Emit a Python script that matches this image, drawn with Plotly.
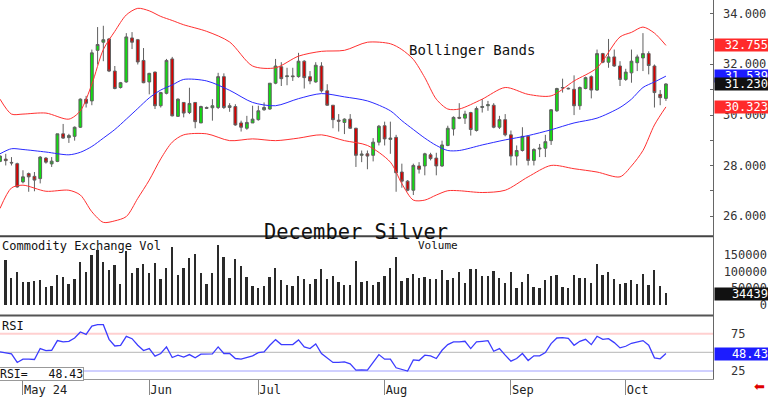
import pandas as pd
import plotly.graph_objects as go

# ---------------- data ----------------
holidays = ["2024-05-27", "2024-06-19", "2024-07-04", "2024-09-02"]
dates = [d.strftime("%Y-%m-%d") for d in pd.bdate_range("2024-04-25", "2024-10-10")
         if d.strftime("%Y-%m-%d") not in holidays]

opens = [28.17, 28.26, 28.13, 28.08, 27.36, 27.69, 27.58, 27.49, 28.30, 28.07,
         28.17, 29.26, 29.11, 29.16, 29.52, 30.63, 30.56, 32.56, 32.88, 33.01,
         31.74, 31.09, 31.31, 33.05, 32.98, 32.16, 31.31, 31.70, 30.37, 30.86,
         32.22, 29.95, 30.50, 30.10, 30.50, 29.69, 30.30, 30.29, 30.30, 31.52,
         30.30, 30.34, 29.69, 29.48, 29.69, 29.82, 30.21, 30.24, 31.26, 31.91,
         31.52, 31.55, 31.52, 32.13, 31.52, 31.31, 31.94, 30.96, 30.39, 29.80,
         29.71, 29.84, 29.48, 28.41, 28.47, 28.41, 28.93, 29.58, 29.04, 29.12,
         27.75, 27.39, 27.03, 27.99, 27.99, 28.43, 28.30, 27.99, 28.80, 29.45,
         29.91, 29.88, 30.10, 29.39, 30.30, 30.37, 30.39, 29.52, 29.82, 29.22,
         28.38, 28.60, 29.16, 28.21, 28.66, 28.69, 28.99, 30.17, 31.07, 31.06,
         31.02, 30.37, 31.05, 31.52, 30.99, 32.43, 32.09, 32.30, 31.94, 31.41,
         31.67, 32.07, 32.26, 32.43, 31.94, 30.82, 30.66]
highs = [28.41, 28.47, 28.34, 28.12, 27.82, 27.73, 27.75, 28.38, 28.34, 28.34,
         29.26, 29.65, 29.26, 29.55, 30.66, 30.76, 32.59, 33.48, 33.53, 33.05,
         31.94, 31.31, 33.24, 33.28, 33.01, 32.65, 31.67, 31.72, 30.92, 32.22,
         32.30, 30.66, 30.50, 31.08, 30.50, 30.37, 30.34, 30.63, 31.67, 31.65,
         30.47, 30.43, 29.78, 29.97, 30.37, 30.37, 30.50, 31.26, 32.22, 32.09,
         31.87, 31.87, 32.46, 32.17, 31.74, 32.09, 32.09, 31.22, 30.39, 30.04,
         29.87, 30.04, 29.50, 28.60, 28.60, 29.09, 29.61, 29.74, 29.74, 29.22,
         28.08, 27.43, 28.08, 28.14, 28.51, 28.51, 28.51, 28.99, 29.58, 29.95,
         30.47, 30.17, 30.13, 30.34, 30.63, 30.56, 30.47, 29.97, 30.04, 29.39,
         28.80, 29.52, 29.19, 28.69, 28.86, 29.22, 30.24, 31.08, 31.44, 31.09,
         31.57, 31.13, 31.52, 31.57, 32.59, 32.46, 33.01, 32.59, 32.13, 31.83,
         32.59, 32.39, 33.24, 32.52, 32.00, 30.99, 31.26]
lows = [28.14, 28.01, 28.01, 27.13, 27.30, 26.97, 26.99, 27.30, 28.08, 27.95,
        28.14, 29.06, 28.90, 28.99, 29.49, 30.30, 30.39, 32.00, 32.13, 31.70,
        31.02, 31.05, 31.28, 32.61, 32.00, 31.26, 30.82, 30.24, 30.30, 30.82,
        29.95, 29.93, 29.91, 30.04, 29.48, 29.69, 30.24, 29.78, 30.24, 30.24,
        30.13, 29.58, 29.35, 29.42, 29.69, 29.78, 30.17, 30.21, 31.22, 31.15,
        31.18, 31.35, 31.48, 31.05, 31.22, 31.28, 30.89, 30.37, 29.48, 29.35,
        29.25, 29.46, 27.95, 28.14, 27.86, 28.17, 28.80, 28.80, 28.47, 26.97,
        27.13, 26.99, 26.84, 27.69, 27.62, 28.21, 27.62, 27.95, 28.77, 29.19,
        29.84, 29.65, 29.19, 29.35, 30.10, 30.17, 29.48, 29.45, 29.16, 28.01,
        28.01, 28.56, 28.01, 28.01, 28.34, 28.34, 28.82, 30.13, 30.89, 31.02,
        30.00, 30.21, 31.02, 30.66, 30.96, 32.05, 31.87, 31.91, 31.15, 31.35,
        31.28, 31.74, 31.74, 31.61, 30.30, 30.39, 30.56]
closes = [28.38, 28.20, 28.11, 27.16, 27.56, 27.56, 27.43, 28.34, 28.14, 28.18,
          29.26, 29.09, 29.19, 29.52, 30.63, 30.47, 32.46, 32.79, 32.98, 31.74,
          31.05, 31.28, 33.09, 32.88, 32.10, 31.28, 31.65, 30.37, 30.89, 32.16,
          29.97, 30.63, 30.08, 30.46, 29.74, 30.34, 30.27, 30.37, 31.52, 30.30,
          30.37, 29.61, 29.52, 29.71, 29.84, 30.17, 30.30, 31.26, 31.94, 31.44,
          31.55, 31.52, 32.13, 31.48, 31.35, 31.97, 30.96, 30.39, 29.82, 29.76,
          29.84, 29.48, 28.41, 28.46, 28.38, 28.93, 29.56, 29.06, 29.09, 27.72,
          27.39, 27.03, 28.01, 27.86, 28.47, 28.28, 27.99, 28.82, 29.48, 29.91,
          29.88, 30.04, 29.43, 30.26, 30.34, 30.41, 29.52, 29.82, 29.22, 28.38,
          28.60, 29.16, 28.21, 28.64, 28.69, 28.95, 30.21, 31.05, 31.09, 31.04,
          30.37, 31.09, 31.48, 30.99, 32.43, 32.09, 32.30, 31.94, 31.41, 31.70,
          32.13, 32.30, 32.43, 31.96, 30.89, 30.69, 31.23]

band_idx = [0, 2, 4, 8, 12, 14, 16, 18, 20, 22, 24, 26, 28, 30, 32, 36, 40, 44, 48, 52,
            56, 60, 64, 68, 70, 72, 74, 76, 78, 80, 84, 88, 92, 96, 100, 104, 108, 110,
            112, 114, 116]
band_upper = [30.63, 30.04, 30.04, 30.08, 29.84, 30.17, 31.22, 32.59, 33.31, 33.96,
              34.22, 34.12, 33.90, 33.74, 33.57, 33.31, 32.89, 31.94, 31.87, 32.33,
              32.52, 32.56, 32.88, 32.82, 32.59, 32.20, 31.48, 30.63, 30.24, 30.24,
              30.63, 31.09, 30.82, 30.76, 31.35, 31.87, 33.09, 33.27, 33.48, 33.24,
              32.755]
band_mid = [28.47, 28.67, 28.64, 28.54, 28.43, 28.53, 28.76, 29.09, 29.43, 29.84,
            30.26, 30.68, 30.99, 31.19, 31.41, 31.35, 30.98, 30.50, 30.37, 30.65,
            30.85, 30.72, 30.56, 30.17, 29.78, 29.43, 29.09, 28.80, 28.60, 28.60,
            28.82, 29.02, 29.19, 29.42, 29.69, 29.88, 30.30, 30.63, 31.09, 31.31,
            31.539]
band_lower = [26.31, 27.12, 27.23, 26.99, 27.03, 26.84, 26.18, 25.76, 25.82, 25.99,
              26.71, 27.43, 28.27, 28.93, 29.22, 29.26, 28.99, 29.06, 28.99, 29.09,
              29.22, 28.99, 28.80, 28.14, 27.29, 26.64, 26.64, 26.84, 27.01, 27.01,
              26.94, 27.03, 27.56, 28.01, 27.88, 27.75, 27.56, 27.99, 28.60, 29.61,
              30.323]

volume = [None, 135400, 79900, 97700, 69900, 69900, 72900, 74900, 53100, 58000,
          90800, 84800, 62000, 78900, 129500, 99700, 149300, 165200, 127500, 105600,
          119500, 62000, 162200, 95700, 110600, 123500, 95700, 125500, 78900, 109600,
          174100, 90800, 110600, 140400, 153300, 96700, 63000, 96700, 179100, 143300,
          81800, 137400, 115600, 83800, 58000, 50100, 56000, 83800, 111600, 75900,
          60000, 56000, 86800, 77900, 64000, 77900, 107600, 77900, 86800, 68000,
          60000, 60000, 131400, 68000, 71900, 60000, 69900, 86800, 111600, 144300,
          71900, 81800, 91800, 81800, 84800, 78900, 77900, 105600, 74900, 81800,
          97700, 66000, 108600, 107600, 87800, 87800, 101700, 81800, 65000, 97700,
          50100, 68000, 92800, 53100, 51100, 74900, 87800, 89800, 55100, 51100,
          90800, 80800, 80800, 65000, 122500, 89800, 99700, 78900, 62000, 66000,
          74900, 62000, 92800, 61000, 105600, 57000, 34439]

rsi = [50.7, 49.8, 48.0, 36.5, 40.9, 40.9, 40.5, 55.2, 52.5, 52.9,
       65.9, 64.1, 65.0, 69.4, 77.5, 74.3, 85.5, 87.3, 87.3, 67.6,
       58.7, 59.6, 71.7, 68.5, 59.6, 52.5, 55.2, 44.9, 48.5, 57.4,
       43.1, 46.3, 43.6, 47.1, 42.7, 47.6, 47.6, 48.0, 57.4, 48.5,
       48.5, 41.8, 40.9, 42.7, 45.4, 49.8, 50.7, 59.6, 67.2, 60.5,
       60.5, 60.5, 66.8, 57.4, 55.2, 61.4, 48.5, 42.7, 36.5, 36.5,
       37.3, 34.7, 26.2, 26.6, 26.2, 36.5, 47.1, 40.9, 40.9, 29.3,
       27.5, 24.9, 40.0, 39.1, 46.3, 45.4, 41.8, 52.9, 60.5, 64.1,
       64.1, 65.0, 55.2, 64.1, 65.0, 65.9, 51.6, 55.2, 46.3, 38.2,
       41.8, 48.5, 39.1, 45.4, 45.4, 49.8, 61.9, 69.4, 69.9, 69.0,
       59.6, 65.0, 67.6, 60.5, 71.7, 67.6, 68.5, 63.2, 56.1, 58.3,
       62.3, 64.1, 65.9, 59.6, 42.7, 41.4, 48.43]

price_ticks = [26, 28, 30, 32, 34]
vol_ticks = [150000, 100000, 50000, 0]
rsi_ticks = [75, 25]
month_starts = ["2024-05-01", "2024-06-03", "2024-07-01", "2024-08-01", "2024-09-03", "2024-10-01"]
month_labels = ["May 24", "Jun", "Jul", "Aug", "Sep", "Oct"]

last_upper, last_mid, last_lower = band_upper[-1], band_mid[-1], band_lower[-1]
last_close, last_vol, last_rsi = closes[-1], volume[-1], rsi[-1]

# ---------------- figure ----------------
MONO = "DejaVu Sans Mono"
W, H = 768, 397
ML, MR, MT, MB = 0, 55, 0, 15
PH = H - MT - MB  # 382
PW = W - ML - MR  # 713


def py(pix):
    """pixel row (from top) -> paper y"""
    return (PH - (pix - MT)) / PH


def px(pix):
    return (pix - ML) / PW


fig = go.Figure()
fig.add_trace(go.Candlestick(
    x=dates, open=opens, high=highs, low=lows, close=closes,
    xaxis="x", yaxis="y",
    increasing=dict(line=dict(color="#606060", width=1), fillcolor="#10dd10"),
    decreasing=dict(line=dict(color="#606060", width=1), fillcolor="#d80000"),
    whiskerwidth=0, hoverinfo="skip"))

bx = [dates[i] for i in band_idx]
for vals, col in ((band_upper, "#ff3030"), (band_lower, "#ff3030"), (band_mid, "#2a2aff")):
    fig.add_trace(go.Scatter(x=bx, y=vals, mode="lines", xaxis="x", yaxis="y",
                             line=dict(color=col, width=1, shape="spline", smoothing=0.8),
                             hoverinfo="skip"))

fig.add_trace(go.Bar(x=dates, y=volume, xaxis="x", yaxis="y2", width=0.32,
                     marker=dict(color="#2a2a2a", line=dict(width=0)), hoverinfo="skip"))

fig.add_trace(go.Scatter(x=dates, y=rsi, mode="lines", xaxis="x", yaxis="y3",
                         line=dict(color="#3c3cff", width=1.3), hoverinfo="skip"))

main_dom = [py(238), 1]
vol_dom = [py(318), py(238)]
rsi_dom = [0, py(318)]

yax_common = dict(side="right", showgrid=False, zeroline=False, showticklabels=False,
                  showline=True, linecolor="#666", linewidth=1, anchor="x", fixedrange=True)

fig.update_layout(
    width=W, height=H,
    margin=dict(l=ML, r=MR, t=MT, b=MB, pad=0),
    paper_bgcolor="white", plot_bgcolor="white",
    showlegend=False, bargap=0,
    xaxis=dict(type="category", categoryorder="array", categoryarray=dates,
               range=[0, 124.2], domain=[0, 1], anchor="y3",
               rangeslider=dict(visible=False), showgrid=False, zeroline=False,
               tickmode="array", tickvals=month_starts, ticktext=month_labels,
               ticks="outside", ticklen=15, tickwidth=1, tickcolor="#888",
               ticklabelposition="outside right",
               tickfont=dict(family=MONO, size=12, color="#222"),
               showline=True, linecolor="#999", linewidth=1),
    yaxis=dict(domain=main_dom, range=[25.216, 34.549], ticks="inside", ticklen=3,
               tickcolor="#666", dtick=1, tick0=26, **yax_common),
    yaxis2=dict(domain=vol_dom, range=[-31250, 206845], ticks="", **yax_common),
    yaxis3=dict(domain=rsi_dom, range=[14.2, 99.7], ticks="", **yax_common),
)

shapes = [
    dict(type="line", xref="paper", yref="paper", x0=0, x1=1, y0=py(238), y1=py(238),
         line=dict(color="#444", width=2)),
    dict(type="line", xref="paper", yref="paper", x0=0, x1=1, y0=py(318), y1=py(318),
         line=dict(color="#555", width=2)),
]
for lvl, col, w in ((75, "#ffd0d0", 2), (50, "#c4c4c4", 1.2), (25, "#d0d0ff", 2)):
    shapes.append(dict(type="line", xref="paper", yref="y3", x0=0, x1=1, y0=lvl, y1=lvl,
                       line=dict(color=col, width=w), layer="below"))
fig.update_layout(shapes=shapes)

ann = []
# price axis labels
for v in price_ticks:
    ann.append(dict(x=1, xref="paper", xshift=8, xanchor="left", y=v, yref="y",
                    yanchor="middle", text=f"{v:.3f}", showarrow=False,
                    font=dict(family=MONO, size=12, color="#333")))
# volume axis labels (right aligned)
for v in vol_ticks:
    ann.append(dict(x=1, xref="paper", xshift=1, xanchor="left", y=v, yref="y2",
                    yanchor="middle", text=str(v), showarrow=False, width=52, align="right",
                    borderpad=0, font=dict(family=MONO, size=12, color="#333")))
# rsi axis labels
for v in rsi_ticks:
    ann.append(dict(x=1, xref="paper", xshift=16, xanchor="left", y=v, yref="y3",
                    yanchor="middle", text=str(v), showarrow=False,
                    font=dict(family=MONO, size=12, color="#333")))


def value_box(val, yref, bg, text):
    return dict(x=1, xref="paper", xshift=1, xanchor="left", y=val, yref=yref,
                yanchor="middle", text=text, showarrow=False, width=53, height=12,
                align="right", valign="middle", bgcolor=bg, borderpad=0,
                font=dict(family=MONO, size=12, color="white"))


ann.append(value_box(last_upper, "y", "#ff2a2a", f"{last_upper:.3f}"))
ann.append(value_box(last_lower, "y", "#ff2a2a", f"{last_lower:.3f}"))
ann.append(value_box(last_mid, "y", "#1c1cff", f"{last_mid:.3f}"))
ann.append(value_box(last_close, "y", "#111111", f"{last_close:.3f}"))
ann.append(value_box(last_vol, "y2", "#111111", f"{last_vol}"))
ann.append(value_box(last_rsi, "y3", "#1c1cff", f"{last_rsi:.2f}"))

# titles / labels
ann += [
    dict(x=0, xref="paper", xanchor="left", y=py(247.5), yref="paper", yanchor="middle",
         text="Commodity Exchange Vol", showarrow=False,
         font=dict(family=MONO, size=12, color="#111")),
    dict(x=px(416), xref="paper", xanchor="left", y=py(247), yref="paper", yanchor="middle",
         text="Volume", showarrow=False, font=dict(family=MONO, size=11, color="#111")),
    dict(x=0, xref="paper", xanchor="left", y=py(328.5), yref="paper", yanchor="middle",
         text="RSI", showarrow=False, font=dict(family=MONO, size=12, color="#111")),
    dict(x=0, xref="paper", xanchor="left", xshift=-1, y=py(376.5), yref="paper",
         yanchor="middle", text=f"RSI=   {last_rsi:.2f}", showarrow=False, height=12,
         valign="middle", bgcolor="white", bordercolor="#999", borderwidth=1, borderpad=0,
         font=dict(family=MONO, size=11.5, color="#111")),
    dict(x=px(407), xref="paper", xanchor="left", y=py(50.5), yref="paper", yanchor="middle",
         text="Bollinger Bands", showarrow=False, font=dict(family=MONO, size=14, color="#111")),
    dict(x=px(262), xref="paper", xanchor="left", y=py(233.5), yref="paper", yanchor="middle",
         text="December Silver", showarrow=False, font=dict(family=MONO, size=20.4, color="#111")),
    dict(x=px(759), xref="paper", xanchor="center", y=py(390), yref="paper", yanchor="middle",
         text="⬅", showarrow=False, font=dict(family="DejaVu Sans", size=13, color="#e00000")),
]
fig.update_layout(annotations=ann)

fig.write_html("out.html", config={"displayModeBar": False},
               post_script="document.body.style.margin='0';document.body.style.padding='0';"
                           "document.body.style.overflow='hidden';")
